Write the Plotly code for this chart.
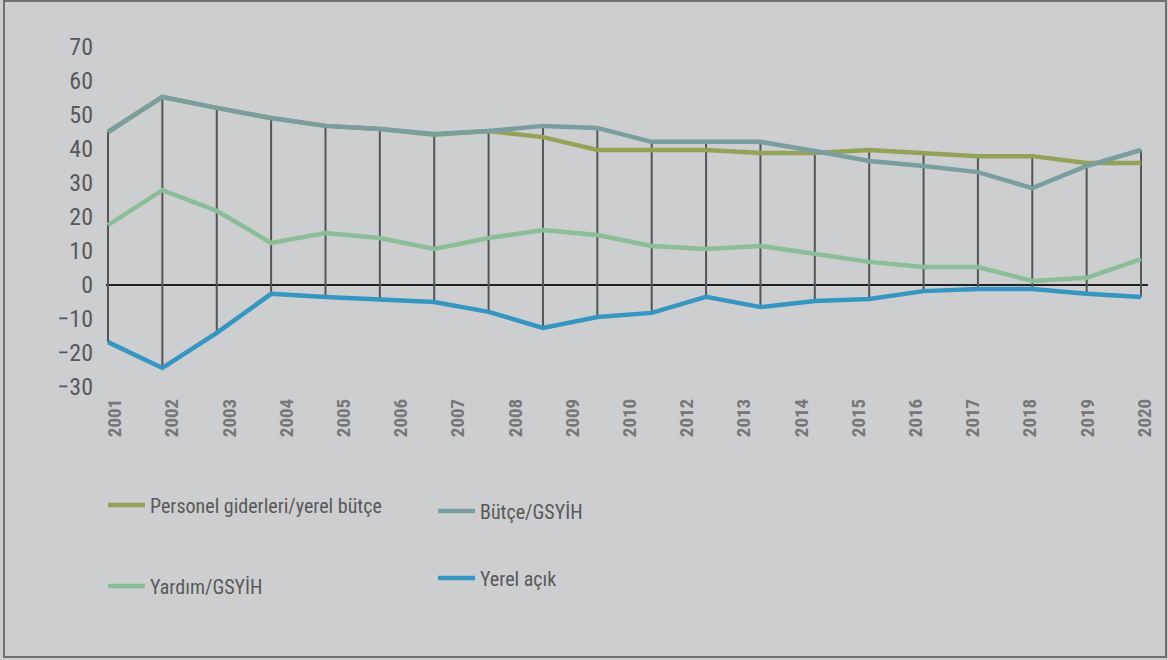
import plotly.graph_objects as go

# ---- data ----
year_labels = ["2001", "2002", "2003", "2004", "2005", "2006", "2007", "2008", "2009", "2010",
               "2012", "2013", "2014", "2015", "2016", "2017", "2018", "2019", "2020"]
point_index = list(range(20))

personel = [45.0, 55.3, 52.1, 49.1, 46.8, 45.9, 44.2, 45.3, 43.5, 39.7,
            39.7, 39.7, 38.8, 38.8, 39.7, 38.8, 37.9, 37.9, 35.9, 35.9]
butce = [45.0, 55.3, 52.1, 49.1, 46.8, 45.9, 44.4, 45.3, 46.8, 46.2,
         42.1, 42.1, 42.1, 39.4, 36.5, 35.0, 33.2, 28.5, 35.0, 39.7]
yardim = [17.6, 27.9, 21.8, 12.4, 15.3, 13.8, 10.6, 13.8, 16.2, 14.7,
          11.5, 10.6, 11.5, 9.1, 6.8, 5.3, 5.3, 1.2, 2.1, 7.6]
acik = [-16.8, -24.4, -14.1, -2.6, -3.5, -4.1, -5.0, -7.9, -12.6, -9.4,
        -8.2, -3.5, -6.5, -4.7, -4.1, -1.8, -1.2, -1.2, -2.6, -3.5]
y_ticks = [-30, -20, -10, 0, 10, 20, 30, 40, 50, 60, 70]

names = ["Personel giderleri/yerel bütçe", "Bütçe/GSYİH", "Yardım/GSYİH", "Yerel açık"]
colors = ["#94a257", "#7a9e9f", "#8abd98", "#3596c2"]
series = [personel, butce, yardim, acik]

W, H = 1168, 660
BG = "#cdced0"
FONT = "Liberation Sans Narrow, Roboto Condensed, Roboto, sans-serif"

fig = go.Figure()

# high-low lines
hx, hy = [], []
for i in point_index:
    vals = [s[i] for s in series]
    hx += [i, i, None]
    hy += [max(vals), min(vals), None]
fig.add_trace(go.Scatter(x=hx, y=hy, mode="lines", line=dict(color="#555555", width=2),
                         showlegend=False, hoverinfo="skip"))

legend_ids = ["legend", "legend2", "legend3", "legend4"]
for s, n, c, lg in zip(series, names, colors, legend_ids):
    fig.add_trace(go.Scatter(x=point_index, y=s, mode="lines", name=n,
                             line=dict(color=c, width=4.5), legend=lg))

# category axis carrying the year labels (no visible marks)
fig.add_trace(go.Scatter(x=list(range(len(year_labels))), y=[None] * len(year_labels),
                         xaxis="x2", mode="lines", showlegend=False, hoverinfo="skip"))

# legend positions (pixel: line start x, center y)
leg_pos = [(108, 505), (438, 511), (108, 586), (438, 578)]
leg_common = dict(xref="container", yref="container", xanchor="left", yanchor="middle",
                  itemwidth=37, bgcolor="rgba(0,0,0,0)",
                  font=dict(family=FONT, size=20, color="#595959"))
legs = {}
for lg, (px, py) in zip(legend_ids, leg_pos):
    legs[lg] = dict(x=(px - 5) / W, y=1 - py / H, **leg_common)

ML, MR, MT = 106, 20, 40
plot_w = W - ML - MR
plot_h = 354
MB = H - MT - plot_h
zero_px = 285
px_per_unit = 3.4
y_top = (zero_px - MT) / px_per_unit
y_bot = -(MT + plot_h - zero_px) / px_per_unit

first_px, step_px = 108, 54.37
x0 = (ML - first_px) / step_px
x1 = (ML + plot_w - first_px) / step_px
lab_first, lab_step = 115, 57.2
l0 = (ML - lab_first) / lab_step
l1 = (ML + plot_w - lab_first) / lab_step

fig.update_layout(
    width=W, height=H,
    margin=dict(l=ML, r=MR, t=MT, b=MB, autoexpand=False),
    paper_bgcolor=BG, plot_bgcolor=BG,
    showlegend=True,
    xaxis=dict(range=[x0, x1], showgrid=False, zeroline=False, showticklabels=False,
               ticks="", showline=False),
    xaxis2=dict(overlaying="x", anchor="y", side="bottom", range=[l0, l1],
                tickmode="array", tickvals=list(range(len(year_labels))), ticktext=year_labels,
                tickangle=-90, showgrid=False, zeroline=False, showline=False, ticks="",
                tickfont=dict(family=FONT, size=19, color="#777777", weight="bold")),
    yaxis=dict(range=[y_bot, y_top], tickmode="array", tickvals=y_ticks, showgrid=False,
               zeroline=True, zerolinecolor="#222222", zerolinewidth=2, showline=False,
               ticks="", ticklabelstandoff=12,
               tickfont=dict(family=FONT, size=24, color="#595959")),
    shapes=[dict(type="rect", xref="paper", yref="paper",
                 x0=(4 - ML) / plot_w, x1=(1166 - ML) / plot_w,
                 y0=1 - (657 - MT) / plot_h, y1=1 - (1 - MT) / plot_h,
                 line=dict(color="#707070", width=2), fillcolor="rgba(0,0,0,0)", layer="above")],
    **legs,
)

fig.write_html("out.html", config={"displayModeBar": False},
               post_script="document.body.style.margin='0';")
